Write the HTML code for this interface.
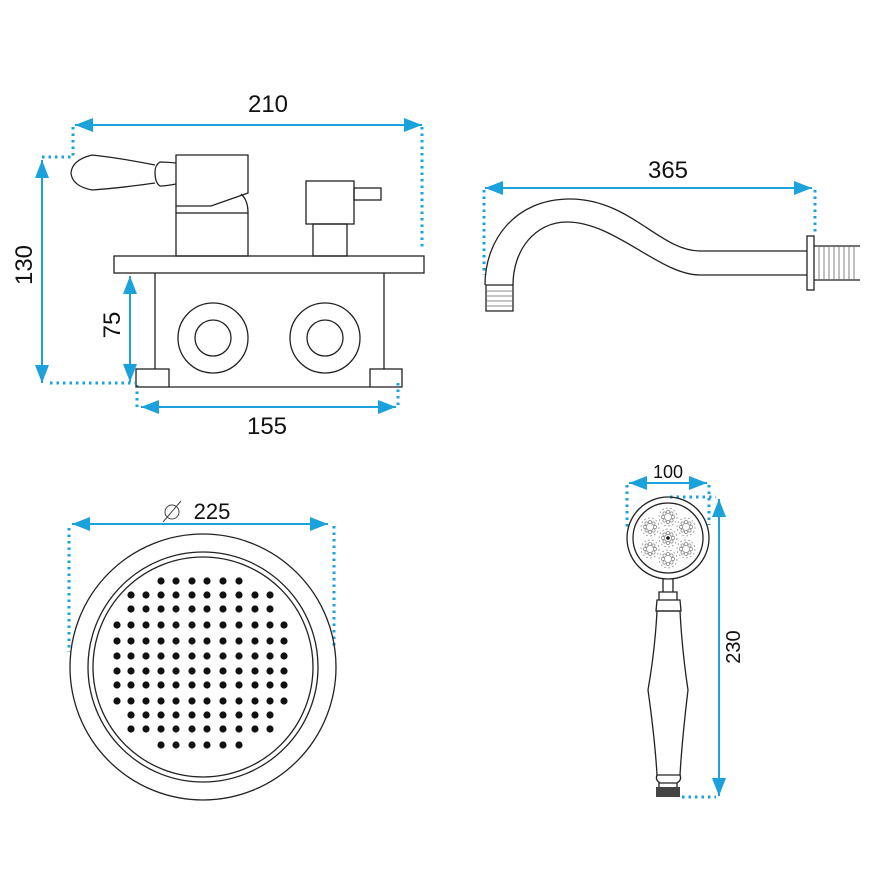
<!DOCTYPE html>
<html><head><style>body{margin:0;background:#fff}svg{display:block}</style></head><body>
<svg width="870" height="870" viewBox="0 0 870 870" xmlns="http://www.w3.org/2000/svg" font-family="Liberation Sans, sans-serif">
<defs>
<marker id="b" viewBox="0 0 10 10" refX="10" refY="5" markerWidth="18" markerHeight="14" orient="auto-start-reverse" markerUnits="userSpaceOnUse" preserveAspectRatio="none"><path d="M0,0L10,5L0,10z" fill="#1ba1db"/></marker>
<g id="ro" fill="none" stroke="#888" stroke-width="0.7"><circle cx="0" cy="-5" r="1.6"/><circle cx="3.5" cy="-3.5" r="1.6"/><circle cx="5" cy="0" r="1.6"/><circle cx="3.5" cy="3.5" r="1.6"/><circle cx="0" cy="5" r="1.6"/><circle cx="-3.5" cy="3.5" r="1.6"/><circle cx="-5" cy="0" r="1.6"/><circle cx="-3.5" cy="-3.5" r="1.6"/><circle cx="0" cy="0" r="9" stroke-dasharray="2 2"/></g>
</defs>
<g stroke="#1ba1db" stroke-width="2" fill="none">
<line x1="75" y1="125" x2="422" y2="125" marker-start="url(#b)" marker-end="url(#b)"/>
<line x1="42" y1="160" x2="42" y2="383" marker-start="url(#b)" marker-end="url(#b)"/>
<line x1="130" y1="276" x2="130" y2="382" marker-start="url(#b)" marker-end="url(#b)"/>
<line x1="141" y1="407" x2="396" y2="407" marker-start="url(#b)" marker-end="url(#b)"/>
<line x1="485" y1="188" x2="812" y2="188" marker-start="url(#b)" marker-end="url(#b)"/>
<line x1="72" y1="524" x2="328" y2="524" marker-start="url(#b)" marker-end="url(#b)"/>
<line x1="629" y1="483" x2="707" y2="483" marker-start="url(#b)" marker-end="url(#b)"/>
<line x1="719" y1="499" x2="719" y2="796" marker-start="url(#b)" marker-end="url(#b)"/>
</g>
<g stroke="#1ba1db" stroke-width="3" fill="none" stroke-dasharray="2.5 4">
<path d="M73 127V157M42 157H72M422 127V250M50 383H135M137 385V407M398 383V405"/>
<path d="M484 190V275M815 190V234"/>
<path d="M69 528V652M334 526V648"/>
<path d="M627 485V530M709 485V525M670 497H716M682 797H716"/>
</g>
<g font-size="24" fill="#111" text-anchor="middle">
<text x="268" y="112">210</text>
<text x="267" y="434">155</text>
<text x="668" y="178">365</text>
<text transform="translate(32,265) rotate(-90)">130</text>
<text transform="translate(120,325) rotate(-90)">75</text>
<text x="212" y="519" font-size="22">225</text>
<text x="668" y="478" font-size="18">100</text>
<text transform="translate(740,647) rotate(-90)" font-size="20">230</text>
</g>
<g stroke="#444" stroke-width="1" fill="none"><circle cx="172" cy="512" r="7"/><line x1="163" y1="522" x2="181" y2="501"/></g>
<g stroke="#222" stroke-width="1.3" fill="none">
<rect x="114" y="256" width="310" height="17"/>
<path d="M155 273V369M384 273V369M169 387H370"/>
<rect x="136" y="369" width="33" height="18"/><rect x="370" y="369" width="32" height="18"/>
<circle cx="213" cy="338" r="35"/><circle cx="213" cy="338" r="18"/>
<circle cx="325" cy="338" r="35"/><circle cx="325" cy="338" r="18"/>
<path d="M176 155H248V193L211 206H176Z"/>
<path d="M241 194Q248 200 248 213M176 206V213"/>
<rect x="176" y="213" width="72" height="43"/>
<path d="M176 163Q166 162 160 162Q155 165 155 172Q155 183 160 186Q166 186 176 184"/>
<path d="M155 165Q120 158 92 155Q72 160 71 173Q72 186 92 190Q120 188 155 183"/>
<rect x="306" y="181" width="48" height="43"/><rect x="313" y="224" width="34" height="32"/><rect x="354" y="188" width="27" height="12"/>
<path d="M485 285C485 240 515 199 570 199C630 199 660 251 700 251H807"/>
<path d="M513 285C513 250 535 222 567 222C615 222 660 275 700 275H807"/>
<rect x="807" y="236" width="7" height="54"/>
<path d="M814 246H860M814 280H860"/>
<path d="M486 285H513V311H486Z"/>
</g>
<g stroke="#666" stroke-width="0.8">
<path d="M819 246V280M824 246V280M829 246V280M834 246V280M839 246V280M844 246V280M849 246V280M854 246V280"/>
<path d="M486 291H513M486 296H513M486 301H513M486 306H513"/>
</g>
<g stroke="#222" stroke-width="1.3" fill="none">
<circle cx="203" cy="667" r="133"/><circle cx="203" cy="667" r="115"/><circle cx="203" cy="667" r="110"/>
<circle cx="668" cy="538" r="41"/><circle cx="668" cy="538" r="35"/>
<path d="M663 579V592H673V579M659 592H677V600H659ZM657 600H680L681 611H656Z"/>
<path d="M657 611Q655 650 648 690Q655 740 657 775H680Q682 740 688 690Q682 650 680 611Z"/>
<path d="M657 775Q655 780 660 783H677Q682 780 680 775M659 783V787M677 783V787"/>
</g>
<rect x="656" y="787" width="24" height="10" fill="#444"/>
<g fill="#111">
<g id="r1"><circle cx="161" cy="581" r="3.6"/><circle cx="176" cy="581" r="3.6"/><circle cx="192" cy="581" r="3.6"/><circle cx="207" cy="581" r="3.6"/><circle cx="223" cy="581" r="3.6"/><circle cx="239" cy="581" r="3.6"/></g>
<use href="#r1" y="164"/>
<g id="r2"><circle cx="131" cy="595" r="3.6"/><circle cx="146" cy="595" r="3.6"/><use href="#r1" y="14"/><circle cx="255" cy="595" r="3.6"/><circle cx="270" cy="595" r="3.6"/></g>
<use href="#r2" y="14"/><use href="#r2" y="120"/><use href="#r2" y="134"/>
<g id="r3"><circle cx="117" cy="625" r="3.6"/><use href="#r2" y="30"/><circle cx="284" cy="625" r="3.6"/></g>
<use href="#r3" y="16"/><use href="#r3" y="31"/><use href="#r3" y="46"/><use href="#r3" y="60"/><use href="#r3" y="76"/>
</g>
<use href="#ro" x="668" y="538"/><use href="#ro" x="668" y="517"/><use href="#ro" x="668" y="559"/>
<use href="#ro" x="650" y="527"/><use href="#ro" x="686" y="527"/><use href="#ro" x="650" y="549"/><use href="#ro" x="686" y="549"/>
<circle cx="668" cy="538" r="1.8" fill="#111"/>
</svg>
</body></html>
